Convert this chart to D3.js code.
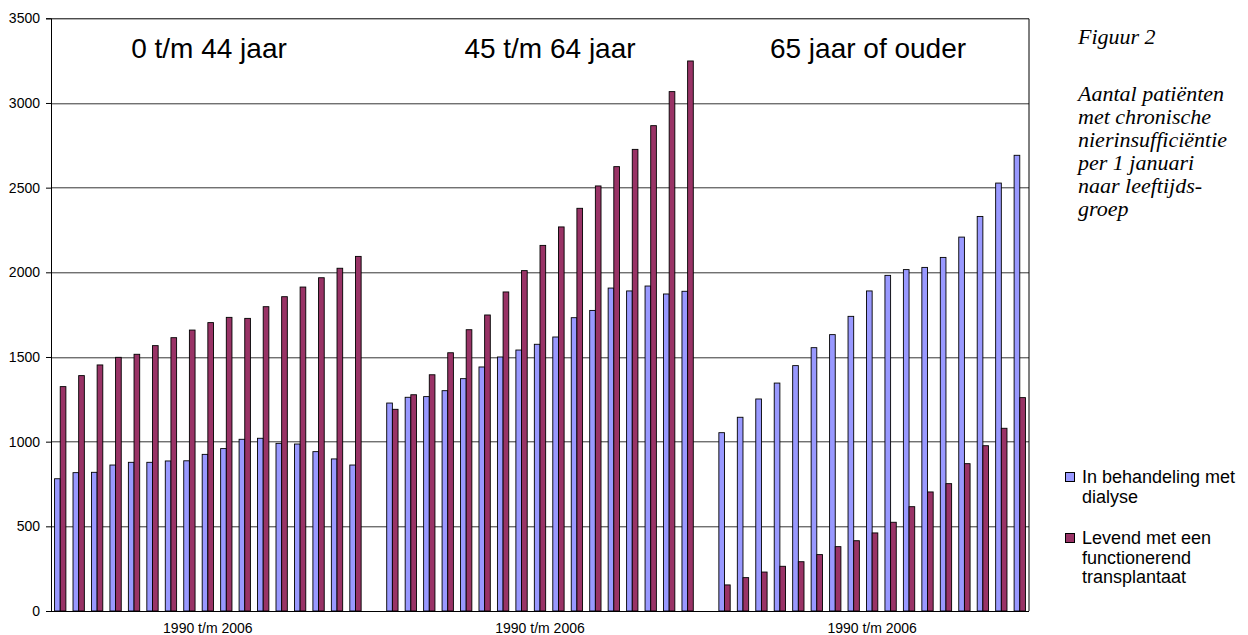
<!DOCTYPE html>
<html>
<head>
<meta charset="utf-8">
<script src="https://cdn.jsdelivr.net/npm/d3@7"></script>
<style>
  body { margin: 0; background: #fff; }
  svg { display: block; }
  .axis text { font-family: "Liberation Sans", Arial, sans-serif; font-size: 14px; fill: #000; }
</style>
</head>
<body>
<div id="chart"></div>
<script>
// Data (1990 t/m 2006, per 1 januari)
var years = d3.range(1990, 2007);
var groups = ["0 t/m 44 jaar", "45 t/m 64 jaar", "65 jaar of ouder"];
var series = ["In behandeling met dialyse", "Levend met een functionerend transplantaat"];
var xLabel = "1990 t/m 2006";
var yTicks = [0, 500, 1000, 1500, 2000, 2500, 3000, 3500];

var dialyse0_44 = [781, 817, 819, 862, 878, 878, 886, 887, 925, 959, 1014, 1020, 990, 986, 941, 898, 862];
var transpl0_44 = [1325, 1390, 1453, 1498, 1516, 1567, 1614, 1659, 1703, 1734, 1728, 1797, 1856, 1913, 1968, 2024, 2094];
var dialyse45_64 = [1228, 1262, 1266, 1301, 1372, 1441, 1500, 1541, 1575, 1618, 1732, 1775, 1907, 1890, 1919, 1872, 1888];
var transpl45_64 = [1191, 1277, 1395, 1525, 1661, 1748, 1884, 2010, 2159, 2268, 2378, 2510, 2624, 2726, 2866, 3067, 3248];
var dialyse65 = [1053, 1144, 1252, 1346, 1449, 1555, 1632, 1740, 1890, 1982, 2016, 2029, 2088, 2208, 2330, 2527, 2691];
var transpl65 = [154, 197, 230, 264, 291, 333, 380, 415, 461, 524, 616, 703, 752, 870, 976, 1079, 1260];

var colors = ["#9999ff", "#993366"];

// Set the dimensions of the canvas / graph
var margin = {top: 18.3, right: 219, bottom: 24, left: 51},
    width = 1248 - margin.left - margin.right,
    height = 635 - margin.top - margin.bottom;

// Build the rows: 3 groups of 17 years, one empty slot between groups
var groupValues = [[dialyse0_44, transpl0_44], [dialyse45_64, transpl45_64], [dialyse65, transpl65]];
var rows = [];
var slots = [];
groupValues.forEach(function(g, gi) {
    if (gi > 0) slots.push("gap" + gi);
    years.forEach(function(yr, i) {
        var key = gi + "-" + yr;
        slots.push(key);
        rows.push({key: key, group: gi, year: yr, values: [g[0][i], g[1][i]]});
    });
});

// Set the ranges
var x = d3.scaleBand().domain(slots).range([0, width]).paddingInner(0).paddingOuter(0);
var xSub = d3.scaleBand().domain([0, 1]).range([0, x.bandwidth()]).paddingInner(0).paddingOuter(0.63);
var y = d3.scaleLinear().domain([0, 3500]).range([height, 0]);

var svg = d3.select("#chart")
    .append("svg")
        .attr("width", 1248)
        .attr("height", 635);
var g = svg.append("g")
        .attr("transform", "translate(" + margin.left + "," + margin.top + ")");

// Gridlines
g.append("g")
    .selectAll("line")
    .data(yTicks.filter(function(d) { return d > 0 && d < 3500; }))
    .enter().append("line")
    .attr("x1", 0)
    .attr("x2", width)
    .attr("y1", function(d) { return Math.round(y(d)) + 0.5; })
    .attr("y2", function(d) { return Math.round(y(d)) + 0.5; })
    .style("stroke", "#000")
    .style("stroke-width", 0.8);

// Plot area border (top and right)
g.append("path")
    .attr("d", "M0," + (Math.round(y(3500)) + 0.5) + "H" + width + "V" + height)
    .style("fill", "none")
    .style("stroke", "#000")
    .style("stroke-width", 1);

// Bars
var bar = g.selectAll(".yr")
    .data(rows)
    .enter().append("g")
    .attr("class", "yr")
    .attr("transform", function(d) { return "translate(" + x(d.key) + ",0)"; });
bar.selectAll("rect")
    .data(function(d) { return d.values.map(function(v, i) { return {s: i, v: v}; }); })
    .enter().append("rect")
    .attr("x", function(d) { return xSub(d.s); })
    .attr("width", xSub.bandwidth())
    .attr("y", function(d) { return y(d.v); })
    .attr("height", function(d) { return height - y(d.v); })
    .style("fill", function(d) { return colors[d.s]; })
    .style("stroke", "#000")
    .style("stroke-width", 0.9);

// Y axis
var yAxis = d3.axisLeft(y).tickValues(yTicks).tickSize(5).tickPadding(6).tickFormat(d3.format("d"));
g.append("g")
    .attr("class", "axis")
    .call(yAxis)
    .call(function(s) { s.selectAll("line, path").style("stroke", "#000"); });

// X axis line (baseline)
g.append("line")
    .attr("x1", -5)
    .attr("x2", width)
    .attr("y1", height + 0.5)
    .attr("y2", height + 0.5)
    .style("stroke", "#000");

// Group labels under the axis
var groupCenter = function(gi) {
    var first = x(gi + "-" + years[0]), last = x(gi + "-" + years[years.length - 1]) + x.bandwidth();
    return (first + last) / 2;
};
g.selectAll(".xlab")
    .data(groups)
    .enter().append("text")
    .attr("class", "xlab")
    .attr("x", function(d, i) { return groupCenter(i); })
    .attr("y", height + 22)
    .attr("text-anchor", "middle")
    .style("font-family", "Liberation Sans, Arial, sans-serif")
    .style("font-size", "14px")
    .text(xLabel);

// Group titles inside the plot
var titleX = [209, 550, 868];
svg.selectAll(".gtitle")
    .data(groups)
    .enter().append("text")
    .attr("class", "gtitle")
    .attr("x", function(d, i) { return titleX[i]; })
    .attr("y", 58)
    .attr("text-anchor", "middle")
    .style("font-family", "Liberation Sans, Arial, sans-serif")
    .style("font-size", "28px")
    .text(function(d) { return d; });

// Caption on the right
var caption = ["Aantal patiënten", "met chronische", "nierinsufficiëntie", "per 1 januari", "naar leeftijds-", "groep"];
svg.append("text")
    .attr("x", 1078)
    .attr("y", 44)
    .style("font-family", "Liberation Serif, Times New Roman, serif")
    .style("font-style", "italic")
    .style("font-size", "22px")
    .text("Figuur 2");
svg.append("text")
    .attr("y", 101)
    .style("font-family", "Liberation Serif, Times New Roman, serif")
    .style("font-style", "italic")
    .style("font-size", "22px")
    .selectAll("tspan")
    .data(caption)
    .enter().append("tspan")
    .attr("x", 1078)
    .attr("dy", function(d, i) { return i === 0 ? 0 : 23; })
    .text(function(d) { return d; });

// Legend
var legendLines = [["In behandeling met", "dialyse"], ["Levend met een", "functionerend", "transplantaat"]];
var legendY = [477, 538];
var legend = svg.selectAll(".legend")
    .data(legendLines)
    .enter().append("g")
    .attr("class", "legend")
    .attr("transform", function(d, i) { return "translate(1065," + legendY[i] + ")"; });
legend.append("rect")
    .attr("x", 0.5)
    .attr("y", -4.5)
    .attr("width", 9)
    .attr("height", 9)
    .style("fill", function(d, i) { return colors[i]; })
    .style("stroke", "#000")
    .style("stroke-width", 1);
legend.append("text")
    .attr("y", 6)
    .style("font-family", "Liberation Sans, Arial, sans-serif")
    .style("font-size", "18px")
    .selectAll("tspan")
    .data(function(d) { return d; })
    .enter().append("tspan")
    .attr("x", 17)
    .attr("dy", function(d, i) { return i === 0 ? 0 : 19.5; })
    .text(function(d) { return d; });
</script>
</body>
</html>
